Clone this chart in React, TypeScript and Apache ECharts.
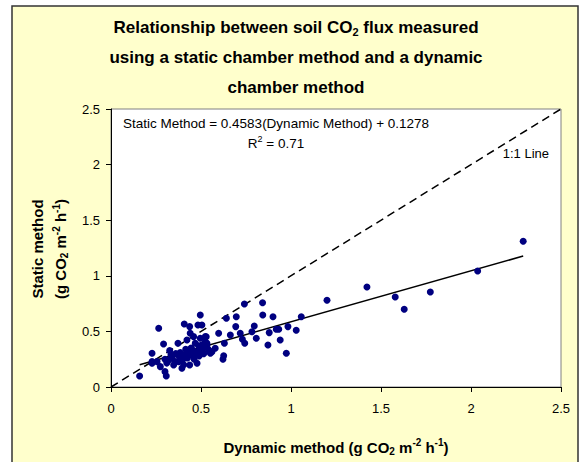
import { useEffect, useRef } from "react";
import * as echarts from "echarts";

// Dynamic chamber method (x) and static chamber method (y), g CO2 m-2 h-1
const dynamicMethod = [
  0.159, 0.228, 0.228, 0.228, 0.256, 0.265, 0.274, 0.292, 0.3, 0.307, 0.3, 0.31, 0.32, 0.326, 0.333, 0.34,
  0.348, 0.355, 0.36, 0.372, 0.376, 0.38, 0.385, 0.394, 0.4, 0.404, 0.407, 0.41, 0.415, 0.422, 0.425, 0.43,
  0.437, 0.437, 0.44, 0.445, 0.45, 0.455, 0.459, 0.462, 0.468, 0.47, 0.478, 0.481, 0.483, 0.487, 0.49, 0.496,
  0.496, 0.5, 0.505, 0.505, 0.505, 0.505, 0.515, 0.524, 0.524, 0.529, 0.533, 0.533, 0.54, 0.548,
  0.552, 0.561, 0.579, 0.598, 0.622, 0.626, 0.63, 0.641, 0.663, 0.693, 0.696, 0.718, 0.73, 0.741, 0.743,
  0.783, 0.796, 0.807, 0.842, 0.843, 0.872, 0.879, 0.9, 0.918, 0.932, 0.94, 0.974, 0.983, 1.029, 1.057,
  1.2, 1.422, 1.579, 1.629, 1.774, 2.037, 2.29,
];
const staticMethod = [
  0.099, 0.303, 0.228, 0.213, 0.228, 0.528, 0.183, 0.387, 0.138, 0.099, 0.25, 0.215, 0.24, 0.327, 0.288, 0.26,
  0.198, 0.23, 0.3, 0.393, 0.228, 0.27, 0.31, 0.168, 0.25, 0.2, 0.567, 0.29, 0.34, 0.423, 0.26, 0.31,
  0.543, 0.198, 0.483, 0.35, 0.288, 0.33, 0.453, 0.25, 0.393, 0.3, 0.213, 0.318, 0.557, 0.37, 0.28, 0.647,
  0.438, 0.33, 0.378, 0.348, 0.318, 0.557, 0.3, 0.453, 0.407, 0.452, 0.378, 0.393, 0.34, 0.318,
  0.303, 0.318, 0.348, 0.483, 0.249, 0.28, 0.393, 0.618, 0.468, 0.543, 0.632, 0.483, 0.43, 0.746, 0.393,
  0.497, 0.549, 0.438, 0.758, 0.647, 0.378, 0.489, 0.632, 0.519, 0.519, 0.423, 0.303, 0.543, 0.51, 0.632,
  0.78, 0.899, 0.809, 0.699, 0.854, 1.043, 1.31,
];

const axisMin = 0;
const axisMax = 2.5;
const axisInterval = 0.5;
const slope = 0.4583;
const intercept = 0.1278;
const rSquared = "0.71";
const oneToOneEnds = [0, 2.5];

const FONT = "'Liberation Sans', Arial, Helvetica, sans-serif";

export default function App() {
  const ref = useRef<HTMLDivElement>(null);

  useEffect(() => {
    if (!ref.current) return;
    const chart = echarts.init(ref.current, null, { renderer: "svg" });

    const points = dynamicMethod.map((x, i) => [x, staticMethod[i]]);
    const xMin = Math.min(...dynamicMethod);
    const xMax = Math.max(...dynamicMethod);
    const fitLine = [
      [xMin, slope * xMin + intercept],
      [xMax, slope * xMax + intercept],
    ];
    const oneToOne = oneToOneEnds.map((v) => [v, v]);

    const richBase = (size: number, bold: boolean, lineHeight: number) => ({
      b: {
        fontSize: size,
        fontWeight: bold ? "bold" : "normal",
        fontFamily: FONT,
        fill: "#000",
        lineHeight,
      },
      s: {
        fontSize: Math.round(size * 0.65),
        fontWeight: bold ? "bold" : "normal",
        fontFamily: FONT,
        fill: "#000",
        padding: [Math.round(size * 0.55), 0, 0, 0],
      },
      p: {
        fontSize: Math.round(size * 0.65),
        fontWeight: bold ? "bold" : "normal",
        fontFamily: FONT,
        fill: "#000",
        padding: [0, 0, Math.round(size * 0.6), 0],
      },
    });

    chart.setOption({
      animation: false,
      backgroundColor: "#ffffff",
      grid: {
        left: 111,
        top: 109,
        right: 18,
        bottom: 75,
        show: true,
        backgroundColor: "#ffffff",
        borderColor: "#808080",
        borderWidth: 1,
      },
      xAxis: {
        type: "value",
        min: axisMin,
        max: axisMax,
        interval: axisInterval,
        axisLine: { show: true, onZero: false, lineStyle: { color: "#000", width: 1 } },
        axisTick: { show: true, inside: false, length: 5, lineStyle: { color: "#000" } },
        splitLine: { show: false },
        axisLabel: { color: "#000", fontSize: 13, fontFamily: FONT, margin: 15 },
      },
      yAxis: {
        type: "value",
        min: axisMin,
        max: axisMax,
        interval: axisInterval,
        axisLine: { show: true, onZero: false, lineStyle: { color: "#000", width: 1 } },
        axisTick: { show: true, inside: false, length: 5, lineStyle: { color: "#000" } },
        splitLine: { show: false },
        axisLabel: { color: "#000", fontSize: 13, fontFamily: FONT, margin: 11 },
      },
      series: [
        {
          type: "line",
          data: oneToOne,
          symbol: "none",
          lineStyle: { color: "#000", width: 1.5, type: [8, 5] },
          z: 3,
        },
        {
          type: "line",
          data: fitLine,
          symbol: "none",
          lineStyle: { color: "#000", width: 1.5 },
          z: 3,
        },
        {
          type: "scatter",
          data: points,
          symbol: "circle",
          symbolSize: 7,
          itemStyle: { color: "#000080", opacity: 1 },
          z: 4,
        },
      ],
      graphic: [
        {
          type: "rect",
          z: -10,
          shape: { x: 12, y: 6, width: 566, height: 470 },
          style: { fill: "#FFFFCC", stroke: "#333333", lineWidth: 1.5 },
        },
        {
          type: "text",
          z: 100,
          x: 296,
          y: 12,
          style: {
            text:
              "{b|Relationship between soil CO}{s|2}{b| flux measured}\n{b|using a static chamber method and a dynamic}\n{b|chamber method}",
            rich: richBase(17, true, 30),
            align: "center",
            verticalAlign: "top",
          },
        },
        {
          type: "text",
          z: 100,
          x: 49,
          y: 249,
          rotation: Math.PI / 2,
          style: {
            text: "{b|Static method}\n{b|(g CO}{s|2}{b| m}{p|-2}{b| h}{p|-1}{b|)}",
            rich: richBase(15, true, 23),
            align: "center",
            verticalAlign: "middle",
          },
        },
        {
          type: "text",
          z: 100,
          x: 336,
          y: 447,
          style: {
            text: "{b|Dynamic method (g CO}{s|2}{b| m}{p|-2}{b| h}{p|-1}{b|)}",
            rich: richBase(15, true, 22),
            align: "center",
            verticalAlign: "middle",
          },
        },
        {
          type: "text",
          z: 100,
          x: 276,
          y: 113,
          style: {
            text: `{b|Static Method = ${slope}(Dynamic Method) + ${intercept}}\n{b|R}{p|2}{b| = ${rSquared}}`,
            rich: richBase(13.5, false, 20),
            align: "center",
            verticalAlign: "top",
          },
        },
        {
          type: "text",
          z: 100,
          x: 549,
          y: 153,
          style: {
            text: "1:1 Line",
            font: `13px ${FONT}`,
            fill: "#000",
            align: "right",
            verticalAlign: "middle",
          },
        },
      ],
    });

    return () => chart.dispose();
  }, []);

  return (
    <div
      ref={ref}
      style={{ position: "fixed", left: 0, top: 0, width: 579, height: 462, background: "#fff" }}
    />
  );
}
